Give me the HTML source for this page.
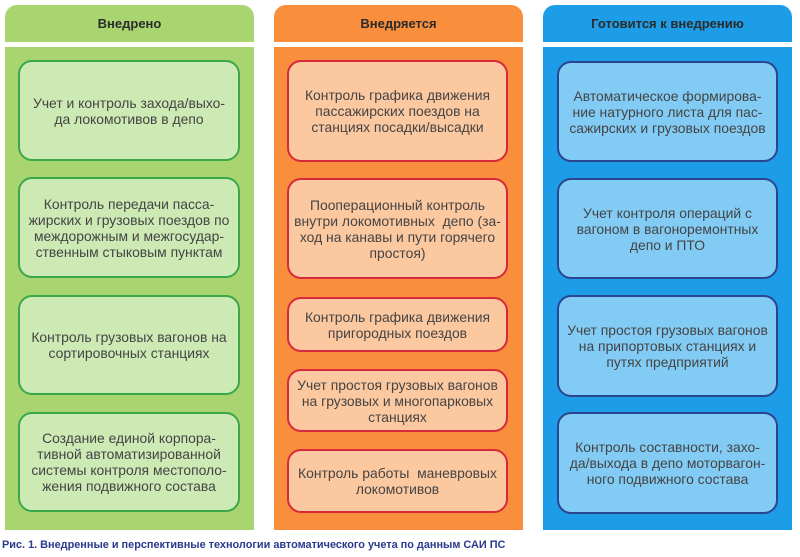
<!DOCTYPE html>
<html><head><meta charset="utf-8">
<style>
html,body{margin:0;padding:0;background:#fff;}
body{width:800px;height:557px;position:relative;overflow:hidden;font-family:"Liberation Sans","DejaVu Sans",sans-serif;}
.hd{position:absolute;top:5px;height:37px;width:249px;border-radius:12px 12px 0 0;display:flex;align-items:center;justify-content:center;font-weight:bold;font-size:13px;color:#2b2b2b;}
.bd{position:absolute;top:47px;height:483px;width:249px;}
.bx{position:absolute;box-sizing:border-box;border:2px solid;border-radius:14px;display:flex;align-items:center;justify-content:center;text-align:center;font-size:13.9px;line-height:16px;color:#444;padding:0 1px;white-space:nowrap;}
.g{background:#a9d571;}
.o{background:#f98e3c;}
.b{background:#1d9de8;}
.gb{background:#cdeab5;border-color:#3aa849;left:18px;width:222px;}
.ob{background:#fcc8a0;border-color:#d62a3c;left:287px;width:221px;}
.bb{background:#82cbf5;border-color:#2c4590;left:557px;width:221px;}
.cap{position:absolute;left:2px;top:539px;font-size:10.9px;font-weight:bold;color:#2a3a8c;white-space:nowrap;}
</style></head><body>
<div class="hd g" style="left:5px">Внедрено</div>
<div class="hd o" style="left:274px">Внедряется</div>
<div class="hd b" style="left:543px">Готовится к внедрению</div>
<div class="bd g" style="left:5px"></div>
<div class="bd o" style="left:274px"></div>
<div class="bd b" style="left:543px"></div>

<div class="bx gb" style="top:60px;height:101px">Учет и контроль захода/выхо-<br>да локомотивов в депо</div>
<div class="bx gb" style="top:177px;height:101px">Контроль передачи пасса-<br>жирских и грузовых поездов по<br>междорожным и межгосудар-<br>ственным стыковым пунктам</div>
<div class="bx gb" style="top:295px;height:100px">Контроль грузовых вагонов на<br>сортировочных станциях</div>
<div class="bx gb" style="top:412px;height:100px">Создание единой корпора-<br>тивной автоматизированной<br>системы контроля местополо-<br>жения подвижного состава</div>

<div class="bx ob" style="top:60px;height:102px">Контроль графика движения<br>пассажирских поездов на<br>станциях посадки/высадки</div>
<div class="bx ob" style="top:178px;height:101px">Пооперационный контроль<br>внутри локомотивных&nbsp; депо (за-<br>ход на канавы и пути горячего<br>простоя)</div>
<div class="bx ob" style="top:297px;height:55px">Контроль графика движения<br>пригородных поездов</div>
<div class="bx ob" style="top:369px;height:63px">Учет простоя грузовых вагонов<br>на грузовых и многопарковых<br>станциях</div>
<div class="bx ob" style="top:449px;height:64px">Контроль работы&nbsp; маневровых<br>локомотивов</div>

<div class="bx bb" style="top:61px;height:101px">Автоматическое формирова-<br>ние натурного листа для пас-<br>сажирских и грузовых поездов</div>
<div class="bx bb" style="top:178px;height:101px">Учет контроля операций с<br>вагоном в вагоноремонтных<br>депо и ПТО</div>
<div class="bx bb" style="top:295px;height:102px">Учет простоя грузовых вагонов<br>на припортовых станциях и<br>путях предприятий</div>
<div class="bx bb" style="top:412px;height:102px">Контроль составности, захо-<br>да/выхода в депо моторвагон-<br>ного подвижного состава</div>

<div class="cap">Рис. 1. Внедренные и перспективные технологии автоматического учета по данным САИ ПС</div>
</body></html>
